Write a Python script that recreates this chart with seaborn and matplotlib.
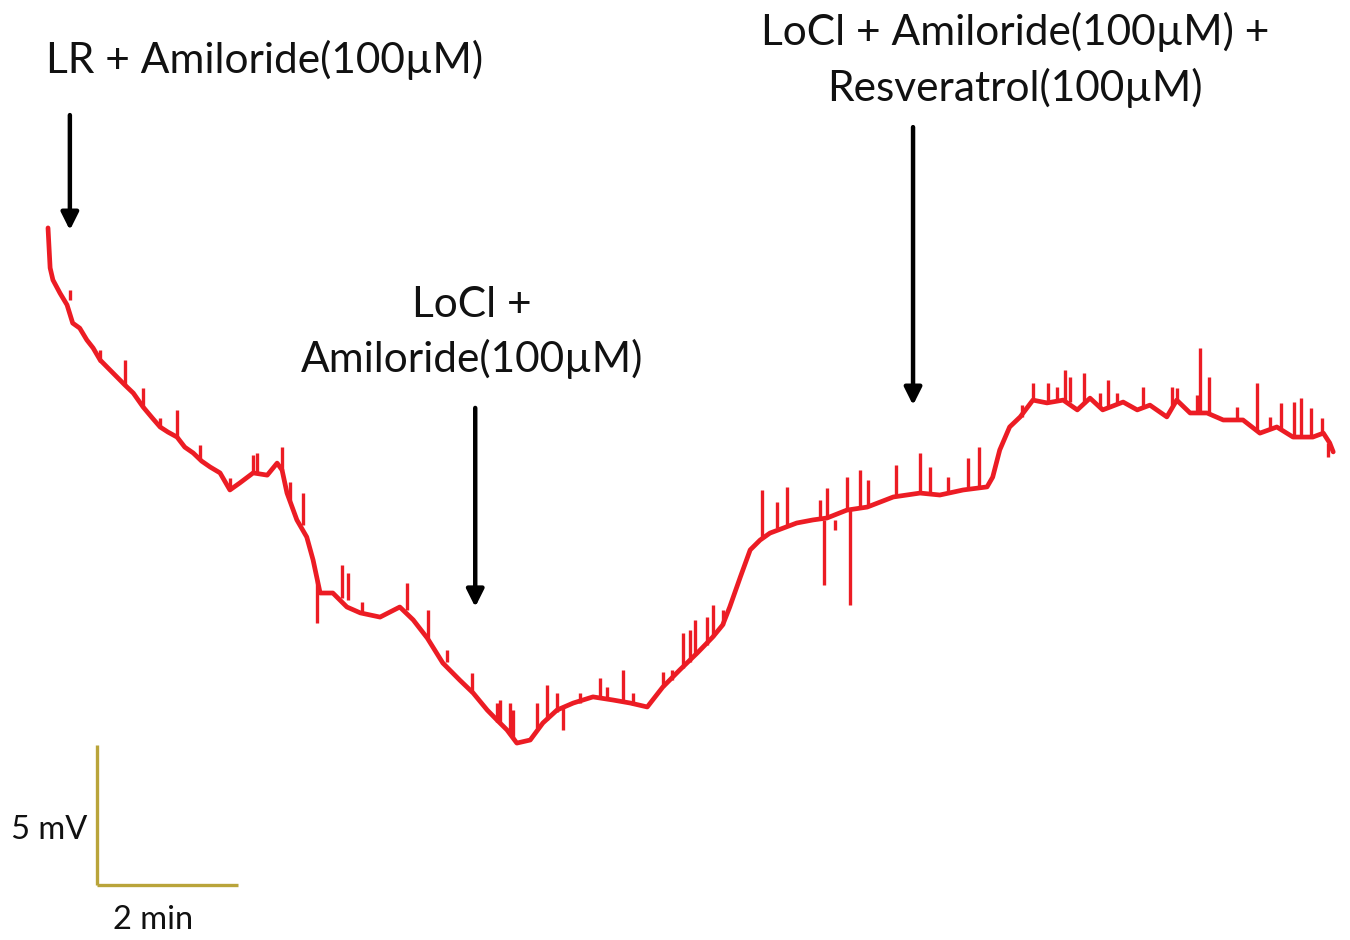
import numpy as np
import pandas as pd
import matplotlib
matplotlib.use("Agg")
import matplotlib.pyplot as plt
import seaborn as sns

# Membrane potential trace: time (min) and potential (mV, relative)
time_min = [
    0.00, 0.03, 0.07, 0.17, 0.27, 0.35, 0.45, 0.55, 0.64, 0.74,
    0.85, 0.98, 1.09, 1.21, 1.35, 1.48, 1.59, 1.70, 1.83, 1.94,
    2.06, 2.18, 2.30, 2.44, 2.58, 2.72, 2.91, 3.11, 3.25, 3.32,
    3.39, 3.53, 3.67, 3.76, 3.86, 4.04, 4.24, 4.43, 4.71, 4.99,
    5.18, 5.38, 5.60, 5.84, 6.03, 6.23, 6.37, 6.51, 6.65, 6.84,
    7.02, 7.22, 7.45, 7.73, 8.01, 8.26, 8.50, 8.72, 8.96, 9.21,
    9.43, 9.57, 9.67, 9.82, 9.96, 10.10, 10.24, 10.62, 10.85, 11.05,
    11.33, 11.62, 11.99, 12.37, 12.65, 12.98, 13.32, 13.40, 13.50, 13.64,
    13.79, 13.97, 14.17, 14.40, 14.60, 14.78, 14.96, 15.25, 15.45, 15.63,
    15.87, 16.01, 16.20, 16.44, 16.67, 16.95, 17.19, 17.43, 17.66, 17.94,
    18.09, 18.18, 18.23,
]
potential_mv = [
    18.29, 16.86, 16.43, 15.96, 15.54, 14.89, 14.71, 14.29, 14.00, 13.57,
    13.29, 12.96, 12.68, 12.39, 11.89, 11.50, 11.18, 11.00, 10.82, 10.46,
    10.25, 9.96, 9.75, 9.54, 8.93, 9.18, 9.54, 9.46, 9.89, 9.64,
    8.82, 7.86, 7.25, 6.43, 5.25, 5.25, 4.75, 4.54, 4.39, 4.75,
    4.29, 3.64, 2.75, 2.14, 1.68, 1.07, 0.71, 0.36, -0.11, 0.00,
    0.61, 1.07, 1.32, 1.54, 1.43, 1.32, 1.18, 1.89, 2.50, 3.11,
    3.68, 4.11, 4.75, 5.82, 6.79, 7.14, 7.39, 7.75, 7.86, 7.93,
    8.21, 8.32, 8.68, 8.82, 8.75, 8.93, 9.04, 9.39, 10.36, 11.18,
    11.54, 12.14, 12.04, 12.14, 11.79, 12.21, 11.79, 12.07, 11.79, 11.96,
    11.54, 12.14, 11.68, 11.68, 11.43, 11.43, 10.96, 11.18, 10.82, 10.82,
    10.96, 10.61, 10.29,
]

# Brief transients riding on the trace: time, level before, tip
spike_time = [
    0.31, 0.74, 1.09, 1.35, 1.59, 1.83, 2.16, 2.58, 2.91, 2.96,
    3.32, 3.43, 3.62, 3.82, 4.17, 4.26, 4.45, 5.09, 5.39, 5.66,
    6.01, 6.37, 6.41, 6.55, 6.60, 6.94, 7.08, 7.22, 7.30, 7.55,
    7.83, 7.93, 8.16, 8.30, 8.72, 8.85, 9.01, 9.11, 9.18, 9.35,
    9.43, 9.57, 10.13, 10.34, 10.48, 10.95, 11.01, 11.05, 11.16, 11.33,
    11.38, 11.52, 11.63, 12.03, 12.37, 12.51, 12.77, 13.05, 13.21, 13.82,
    13.97, 14.18, 14.31, 14.43, 14.50, 14.69, 14.92, 15.04, 15.16, 15.53,
    15.94, 16.01, 16.30, 16.34, 16.47, 16.86, 17.15, 17.33, 17.49, 17.67,
    17.77, 17.91, 18.07, 18.16,
]
spike_base = [
    15.71, 13.50, 12.68, 11.89, 11.18, 10.82, 10.07, 9.04, 9.54, 9.54,
    9.64, 8.57, 7.68, 5.71, 5.07, 5.00, 4.57, 4.64, 3.64, 2.79,
    1.68, 0.64, 0.64, 0.25, 0.07, 0.43, 0.71, 1.00, 1.14, 1.32,
    1.54, 1.43, 1.36, 1.25, 1.89, 2.14, 2.57, 2.79, 3.04, 3.39,
    3.68, 4.11, 7.21, 7.57, 7.68, 7.86, 7.86, 7.93, 7.86, 8.21,
    8.21, 8.29, 8.32, 8.68, 8.82, 8.79, 8.79, 8.93, 9.00, 11.54,
    12.14, 12.04, 12.07, 12.14, 12.07, 12.00, 11.86, 11.86, 12.00, 11.86,
    11.96, 12.14, 11.68, 11.64, 11.68, 11.43, 11.07, 11.07, 11.14, 10.82,
    10.82, 10.82, 10.93, 10.61,
]
spike_tip = [
    16.07, 13.93, 13.57, 12.57, 11.50, 11.79, 10.54, 9.36, 10.18, 10.25,
    10.46, 9.21, 8.82, 4.18, 6.25, 5.96, 4.93, 5.61, 4.64, 3.21,
    2.39, 1.32, 1.43, 1.32, 1.07, 1.32, 1.96, 1.68, 0.36, 1.68,
    2.21, 1.89, 2.50, 1.68, 2.43, 2.50, 3.82, 3.93, 4.29, 4.39,
    4.82, 4.64, 8.93, 8.50, 9.04, 8.57, 5.54, 9.00, 7.50, 9.39,
    4.82, 9.64, 9.29, 9.82, 10.25, 9.75, 9.39, 10.07, 10.46, 11.96,
    12.75, 12.75, 12.61, 13.21, 12.96, 13.11, 12.39, 12.86, 12.39, 12.61,
    12.61, 12.57, 12.32, 14.00, 12.96, 11.89, 12.75, 11.54, 12.04, 12.07,
    12.21, 11.86, 11.50, 10.11,
]

# Treatment labels and the time each was applied
treatments = [
    "LR + Amiloride(100µM)",
    "LoCl +\nAmiloride(100µM)",
    "LoCl + Amiloride(100µM) +\nResveratrol(100µM)",
]
treatment_time = [0.31, 6.06, 12.27]

# Scale bar sizes
bar_mv = 5
bar_min = 2

trace = pd.DataFrame({"time": time_min, "mV": potential_mv})

sns.set_theme(style="white")
plt.rcParams["font.family"] = ["Lato", "DejaVu Sans"]

fig = plt.figure(figsize=(13.5, 9.4), dpi=100)
ax = fig.add_axes([0, 0, 1, 1])
ax.set_xlim(-0.681, 18.468)
ax.set_ylim(-7.143, 26.43)
ax.axis("off")

red = "#ec1c24"
sns.lineplot(data=trace, x="time", y="mV", sort=False, estimator=None,
             color=red, lw=3.4, ax=ax, legend=False)
ax.vlines(spike_time, spike_base, spike_tip, color=red, lw=2.4)

# Arrows marking solution changes
arrow_spans = [(22.32, 18.21), (11.86, 4.75), (21.89, 11.96)]
for t, (y0, y1) in zip(treatment_time, arrow_spans):
    ax.annotate("", xy=(t, y1), xytext=(t, y0),
                arrowprops=dict(arrowstyle="-|>", color="black", lw=3.2,
                                mutation_scale=26, shrinkA=0, shrinkB=0))

label_fs = 30.5
ax.text(-0.03, 24.29, treatments[0], ha="left", va="center",
        fontsize=label_fs, color="#111111")
ax.text(6.01, 14.57, treatments[1], ha="center", va="center",
        fontsize=label_fs, color="#111111", linespacing=1.45,
        multialignment="center")
ax.text(13.72, 24.29, treatments[2], ha="center", va="center",
        fontsize=label_fs, color="#111111", linespacing=1.45,
        multialignment="center")

# Calibration bar
bar_color = "#b9a43a"
x0, y0 = 0.695, -5.18
ax.plot([x0, x0], [y0, y0 + bar_mv], color=bar_color, lw=2.4,
        solid_capstyle="butt")
ax.plot([x0, x0 + bar_min], [y0, y0], color=bar_color, lw=2.4,
        solid_capstyle="butt")
ax.text(0.56, -3.21, f"{bar_mv} mV", ha="right", va="center",
        fontsize=23.5, color="#111111")
ax.text(x0 + bar_min * 0.4, -6.43, f"{bar_min} min", ha="center",
        va="center", fontsize=23.5, color="#111111")

fig.savefig("out.png", dpi=100, facecolor="white")
